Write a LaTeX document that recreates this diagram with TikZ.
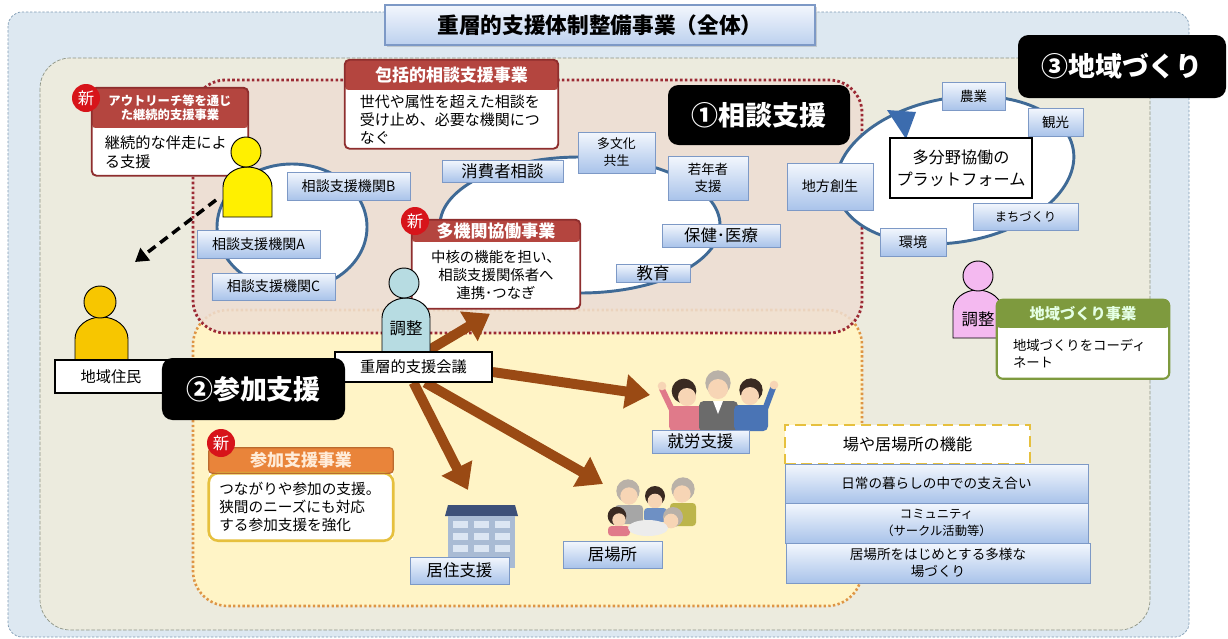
\documentclass[tikz,border=0pt]{standalone}
\usepackage{fontspec}
\setmainfont{Noto Sans CJK JP}
\usetikzlibrary{shapes.geometric, arrows.meta, positioning, shadows}
\definecolor{outerblue}{HTML}{DDE8F1}
\definecolor{outerline}{HTML}{7F9BB3}
\definecolor{areagreen}{HTML}{ECEBDE}
\definecolor{arealine}{HTML}{8C9384}
\definecolor{soudanfill}{HTML}{EEDED3}
\definecolor{soudanline}{HTML}{9C2A34}
\definecolor{sankafill}{HTML}{FFF4C6}
\definecolor{sankaline}{HTML}{DE9545}
\definecolor{ringblue}{HTML}{3F6A96}
\definecolor{agencytop}{HTML}{F3F7FD}
\definecolor{agencybot}{HTML}{A9C3EA}
\definecolor{agencyline}{HTML}{7D99C6}
\definecolor{titlebot}{HTML}{BCD0EE}
\definecolor{bizred}{HTML}{B4453F}
\definecolor{bizredline}{HTML}{8E2E2E}
\definecolor{bizorange}{HTML}{E9843A}
\definecolor{bizgold}{HTML}{E6C03E}
\definecolor{bizgreen}{HTML}{7E9A3E}
\definecolor{newred}{HTML}{D7141A}
\definecolor{arrowbrown}{HTML}{9A4A14}
\definecolor{walker}{HTML}{FFF000}
\definecolor{residentgold}{HTML}{F7C600}
\definecolor{coordblue}{HTML}{B7DCE2}
\definecolor{coordpink}{HTML}{F4B9F0}
\definecolor{platformtip}{HTML}{3C6CAE}
\definecolor{skin}{HTML}{F7D5B5}
\definecolor{hairdark}{HTML}{3A2A22}
\definecolor{hairgray}{HTML}{B9B1A8}
\definecolor{shirtpink}{HTML}{E07A8A}
\definecolor{suitgray}{HTML}{6B6B6B}
\definecolor{suitblue}{HTML}{4A74B5}
\definecolor{roofblue}{HTML}{3D5079}
\definecolor{facade}{HTML}{A9BBD4}
\definecolor{windowblue}{HTML}{DCE6F3}
\pgfdeclarelayer{back}
\pgfdeclarelayer{mid}
\pgfsetlayers{back,mid,main}

\begin{document}
\begin{tikzpicture}[x=0.03cm, y=-0.03cm,
  titlebox/.style={rectangle, draw=agencyline, line width=1pt, top color=agencytop, bottom color=titlebot, inner sep=0pt, font=\fontsize{18.5}{20}\selectfont\bfseries, drop shadow={shadow xshift=1.5pt, shadow yshift=-1.5pt, opacity=0.3}},
  agency/.style={rectangle, draw=agencyline, line width=0.8pt, top color=agencytop, bottom color=agencybot, inner sep=0pt, align=center, font=\fontsize{12}{14.5}\selectfont, drop shadow={shadow xshift=1.2pt, shadow yshift=-1.2pt, opacity=0.3}},
  whitebox/.style={rectangle, draw=black, line width=1pt, fill=white, inner sep=0pt, align=center, font=\fontsize{13}{15}\selectfont},
  stage/.style={rectangle, rounded corners=9pt, fill=black, text=white, inner sep=0pt, font=\fontsize{23}{26}\selectfont\bfseries},
  bizhead/.style={rectangle, rounded corners=3pt, inner sep=0pt, align=center, font=\fontsize{14.5}{17}\selectfont\bfseries},
  bizbody/.style={rectangle, fill=white, inner sep=0pt, align=left, font=\fontsize{12.8}{15.4}\selectfont},
  ring/.style={ellipse, draw=ringblue, line width=2.5pt, fill=white, inner sep=0pt},
  badge/.style={circle, fill=newred, text=white, inner sep=0pt, minimum size=0.84cm, font=\fontsize{14}{14}\selectfont},
  bigarrow/.style={-{Triangle[length=21pt, width=28pt]}, line width=8.5pt, draw=arrowbrown},
  visitarrow/.style={-{Triangle[length=11pt, width=13pt]}, line width=3pt, dash pattern=on 8pt off 5pt},
  funcframe/.style={rectangle, draw=bizgold, line width=1.6pt, dash pattern=on 9pt off 5pt, fill=white, inner sep=0pt, font=\fontsize{13.8}{16}\selectfont}
]
\useasboundingbox (0,0) rectangle (1228,638);

% areas
\begin{pgfonlayer}{back}
\fill[white] (0,0) rectangle (1228,638);
\draw[outerline, fill=outerblue, dash pattern=on 2pt off 1.5pt, line width=0.6pt, rounded corners=12pt] (8,12) rectangle (1189,637);
\draw[arealine, fill=areagreen, dash pattern=on 3pt off 1.5pt, line width=0.6pt, rounded corners=26pt] (40,58) rectangle (1150,630);
\fill[sankafill, rounded corners=30pt] (193,310) rectangle (862,606);
\draw[sankaline, line width=2.2pt, dash pattern=on 2pt off 2pt, rounded corners=30pt] (193,310) rectangle (862,606);
\fill[soudanfill, opacity=0.85, rounded corners=28pt] (193,80) rectangle (862,333);
\draw[soudanline, line width=2.4pt, dash pattern=on 2.2pt off 2pt, rounded corners=28pt] (193,80) rectangle (862,333);
\end{pgfonlayer}

\node[titlebox, minimum width=12.9cm, minimum height=1.2cm] (title) at (600,25) {重層的支援体制整備事業（全体）};

% rings of related agencies
\node[ring, minimum width=4.5cm, minimum height=3.78cm] (ringLocal) at (292,227) {};
\node[ring, minimum width=8.4cm, minimum height=4.08cm] (ringMulti) at (580,225) {};
\node[ring, minimum width=7.2cm, minimum height=4.32cm, rotate=10] (ringArea) at (955,170) {};
\fill[platformtip] (887,110) -- (916,112) -- (906,139) -- cycle;

\node[agency, minimum width=3.69cm, minimum height=0.84cm] (kikanB) at (348.5,186) {相談支援機関B};
\node[agency, minimum width=3.69cm, minimum height=0.84cm] (kikanA) at (258.5,244) {相談支援機関A};
\node[agency, minimum width=3.69cm, minimum height=0.81cm] (kikanC) at (273.5,286.5) {相談支援機関C};

\node[agency, minimum width=3.63cm, minimum height=0.66cm, font=\fontsize{14}{16}\selectfont] (shohi) at (502.5,171) {消費者相談};
\node[agency, minimum width=2.31cm, minimum height=1.23cm, font=\fontsize{11}{14.5}\selectfont] (tabunka) at (616.5,152.5) {多文化\\共生};
\node[agency, minimum width=2.4cm, minimum height=1.32cm, font=\fontsize{11.5}{14.5}\selectfont] (jakunen) at (708,178) {若年者\\支援};
\node[agency, minimum width=3.54cm, minimum height=0.69cm, font=\fontsize{14}{15}\selectfont] (hoken) at (721,235.5) {保健･医療};
\node[agency, minimum width=2.22cm, minimum height=0.54cm, font=\fontsize{14}{15}\selectfont] (kyoiku) at (653,273) {教育};

\node[agency, minimum width=1.89cm, minimum height=0.84cm, font=\fontsize{11.5}{14}\selectfont] (nogyo) at (973.5,96) {農業};
\node[agency, minimum width=1.65cm, minimum height=0.84cm, font=\fontsize{11.5}{14}\selectfont] (kanko) at (1055.5,122) {観光};
\node[agency, minimum width=2.58cm, minimum height=1.41cm] (chiho) at (830,186.5) {地方創生};
\node[agency, minimum width=3.15cm, minimum height=0.81cm, font=\fontsize{10.5}{13}\selectfont] (machi) at (1025.5,216.5) {まちづくり};
\node[agency, minimum width=1.98cm, minimum height=0.84cm] (kankyo) at (913,242) {環境};
\node[whitebox, draw=black, line width=2.2pt, minimum width=4.26cm, minimum height=1.8cm, font=\fontsize{13.8}{18.5}\selectfont] (platform) at (961,168) {多分野協働の\\プラットフォーム};

% project boxes
\node[bizhead, fill=bizred, text=white, minimum width=6.39cm, minimum height=0.9cm] (hokatsuHead) at (451.5,75) {包括的相談支援事業};
\node[bizbody, minimum width=6.39cm, minimum height=1.74cm, text width=5.5cm, below=0pt of hokatsuHead] (hokatsuBody) {世代や属性を超えた相談を\\受け止め、必要な機関につ\\なぐ};
\draw[bizredline, line width=1.6pt, rounded corners=4pt] (hokatsuHead.north west) rectangle (hokatsuBody.south east);

\node[bizhead, fill=bizred, text=white, minimum width=4.68cm, minimum height=1.2cm, font=\fontsize{10.5}{12}\selectfont\bfseries] (outreachHead) at (170,108) {アウトリーチ等を通じ\\た継続的支援事業};
\node[bizbody, minimum width=4.68cm, minimum height=1.41cm, text width=3.9cm, font=\fontsize{13}{16}\selectfont, below=0pt of outreachHead] (outreachBody) {継続的な伴走によ\\る支援};
\draw[bizredline, line width=1.6pt, rounded corners=4pt] (outreachHead.north west) rectangle (outreachBody.south east);
\node[badge] (newOutreach) at (86,98) {新};

\node[bizhead, fill=bizred, text=white, minimum width=5.04cm, minimum height=0.66cm] (tamikanHead) at (496,231) {多機関協働事業};
\node[bizbody, align=center, minimum width=5.04cm, minimum height=1.98cm, font=\fontsize{12.3}{15.4}\selectfont, below=0pt of tamikanHead] (tamikanBody) {中核の機能を担い、\\相談支援関係者へ\\連携･つなぎ};
\draw[bizredline, line width=1.6pt, rounded corners=4pt] (tamikanHead.north west) rectangle (tamikanBody.south east);
\node[badge] (newTamikan) at (415,221) {新};

\node[bizhead, fill=bizorange, text=orange!15, minimum width=5.52cm, minimum height=0.75cm] (sankaHead) at (301,460.5) {参加支援事業};
\node[bizbody, minimum width=5.52cm, minimum height=2.01cm, text width=4.9cm, font=\fontsize{12.5}{15}\selectfont, below=0pt of sankaHead] (sankaBody) {つながりや参加の支援。\\狭間のニーズにも対応\\する参加支援を強化};
\draw[bizgold, line width=2.2pt, rounded corners=8pt] (sankaBody.north west) rectangle (sankaBody.south east);
\draw[bizorange!80!black, line width=1pt, rounded corners=3pt] (sankaHead.north west) rectangle (sankaHead.south east);
\node[badge] (newSanka) at (221,443) {新};

% coordinator for the area
\draw[line width=0.8pt, fill=coordpink] (953,338) -- (953,310) arc[start angle=180, end angle=0, x radius=0.735cm, y radius=0.6cm] -- (1002,338) -- cycle;
\draw[line width=0.8pt, fill=coordpink] (978,276) circle[radius=0.45cm];
\node[font=\fontsize{14}{14}\selectfont] (adjustArea) at (978,319) {調整};

\node[bizhead, fill=bizgreen, text=green!10!white, minimum width=5.16cm, minimum height=0.84cm, font=\fontsize{13}{15}\selectfont\bfseries] (chiikiHead) at (1083,314) {地域づくり事業};
\node[bizbody, minimum width=5.16cm, minimum height=1.5cm, text width=4.2cm, font=\fontsize{11.4}{15}\selectfont, below=0pt of chiikiHead] (chiikiBody) {地域づくりをコーディ\\ネート};
\draw[bizgreen, line width=1.8pt, rounded corners=5pt] (chiikiHead.north west) rectangle (chiikiBody.south east);

% outreach worker and resident
\draw[line width=0.8pt, fill=walker] (223,217) -- (223,187) arc[start angle=180, end angle=0, x radius=0.735cm, y radius=0.6cm] -- (272,217) -- cycle;
\draw[line width=0.8pt, fill=walker] (246,152) circle[radius=0.45cm];
\draw[line width=0.8pt, fill=residentgold] (75,360) -- (75,339) arc[start angle=180, end angle=0, x radius=0.795cm, y radius=0.66cm] -- (128,360) -- cycle;
\draw[line width=0.8pt, fill=residentgold] (100,302) circle[radius=0.48cm];
\node[whitebox, minimum width=3.36cm, minimum height=0.99cm] (jumin) at (111,376.5) {地域住民};
\coordinate (outreach) at (216,200);
\coordinate (resident) at (135,262);
\draw[visitarrow] (outreach) -- (resident);

% support meeting
\draw[line width=0.8pt, fill=coordblue] (382,352) -- (382,318) arc[start angle=180, end angle=0, x radius=0.72cm, y radius=0.6cm] -- (430,352) -- cycle;
\draw[line width=0.8pt, fill=coordblue] (404,283) circle[radius=0.45cm];
\node[font=\fontsize{14}{14}\selectfont] (adjustCenter) at (406,328) {調整};
\node[whitebox, minimum width=4.71cm, minimum height=0.9cm] (kaigi) at (413.5,367) {重層的支援会議};

% people at work
\draw[shirtpink, line width=5pt, line cap=round] (673,412) -- (662,389);
\fill[skin] (662,386) circle[radius=0.13cm];
\fill[hairdark] (684,391) circle[radius=0.37cm];
\fill[skin] (687,397) circle[radius=0.27cm];
\fill[shirtpink, rounded corners=4pt] (669,406) rectangle (703,431);
\fill[hairgray] (718,383) circle[radius=0.38cm];
\fill[skin] (718,389) circle[radius=0.3cm];
\fill[suitgray, rounded corners=4pt] (699,401) rectangle (738,432);
\fill[white] (713,401) -- (723,401) -- (718,414) -- cycle;
\draw[suitblue, line width=5pt, line cap=round] (764,412) -- (773,388);
\fill[skin] (774,385) circle[radius=0.13cm];
\fill[hairdark] (751,390) circle[radius=0.35cm];
\fill[skin] (750,396) circle[radius=0.27cm];
\fill[suitblue, rounded corners=4pt] (734,405) rectangle (768,431);
\node[agency, minimum width=2.91cm, minimum height=0.69cm, font=\fontsize{14}{15}\selectfont] (shuro) at (700.5,441.5) {就労支援};
\coordinate (toWork) at (650,395);

% people at a gathering place
\fill[hairgray] (628,491) circle[radius=0.35cm];
\fill[skin] (629,496) circle[radius=0.26cm];
\fill[suitgray!60, rounded corners=3pt] (615,505) rectangle (643,524);
\fill[hairgray] (683,489) circle[radius=0.35cm];
\fill[skin] (682,494) circle[radius=0.26cm];
\fill[olive!60, rounded corners=3pt] (670,503) rectangle (696,526);
\fill[hairdark] (655,496) circle[radius=0.3cm];
\fill[skin] (655,501) circle[radius=0.22cm];
\fill[suitblue!80, rounded corners=3pt] (644,508) rectangle (667,522);
\fill[hairdark] (617,516) circle[radius=0.28cm];
\fill[skin] (619,520) circle[radius=0.2cm];
\fill[shirtpink, rounded corners=3pt] (608,526) rectangle (630,536);
\fill[hairgray] (673,517) circle[radius=0.3cm];
\fill[skin] (671,521) circle[radius=0.22cm];
\fill[white!85!gray] (648,528) ellipse[x radius=0.6cm, y radius=0.24cm];
\node[agency, minimum width=2.97cm, minimum height=0.81cm, font=\fontsize{14}{15}\selectfont] (ibasho) at (612.5,554.5) {居場所};
\coordinate (toPlace) at (603,484);

% housing
\fill[roofblue] (448,505) -- (515,505) -- (518,516) -- (445,516) -- cycle;
\fill[facade] (448,516) rectangle (515,568);
\foreach \r in {0,1,2,3}
  \foreach \c in {0,1,2}
    \fill[windowblue] (453+\c*21, 521+\r*12) rectangle ++(15,7);
\node[agency, minimum width=2.97cm, minimum height=0.81cm, font=\fontsize{14}{15}\selectfont] (kyoju) at (459.5,570.5) {居住支援};
\coordinate (toHome) at (468,490);

% functions of a place
\node[funcframe, minimum width=7.35cm, minimum height=1.17cm] (funcHead) at (907.5,444.5) {場や居場所の機能};
\node[agency, minimum width=9.09cm, minimum height=1.17cm, font=\fontsize{11.6}{14}\selectfont] (func1) at (936.5,483.5) {日常の暮らしの中での支え合い};
\node[agency, minimum width=9.09cm, minimum height=1.2cm, font=\fontsize{10.5}{15}\selectfont] (func2) at (936.5,523) {コミュニティ\\（サークル活動等）};
\node[agency, minimum width=9.12cm, minimum height=1.2cm, font=\fontsize{11.6}{14.5}\selectfont] (func3) at (938,563) {居場所をはじめとする多様な\\場づくり};

% from the meeting
\begin{pgfonlayer}{mid}
\draw[bigarrow] ([xshift=0.4cm]kaigi.north) -- ([xshift=-0.18cm, yshift=-0.15cm]tamikanBody.south);
\draw[bigarrow] ([yshift=-0.15cm]kaigi.east) -- (toWork);
\draw[bigarrow] ([xshift=0.35cm]kaigi.south) -- (toPlace);
\draw[bigarrow] (kaigi.south) -- (toHome);
\end{pgfonlayer}

% the three stages
\node[stage, minimum width=5.46cm, minimum height=1.8cm] (stageSoudan) at (759,115) {①相談支援};
\node[stage, minimum width=5.49cm, minimum height=1.86cm] (stageSanka) at (253.5,389) {②参加支援};
\node[stage, minimum width=6.24cm, minimum height=1.89cm] (stageChiiki) at (1122,66.5) {③地域づくり};
\end{tikzpicture}
\end{document}
